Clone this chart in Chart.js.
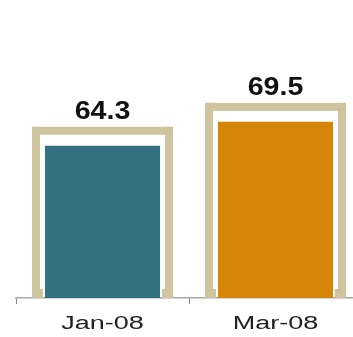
<!DOCTYPE html>
<html>
<head>
<meta charset="utf-8">
<script src="https://cdn.jsdelivr.net/npm/chart.js@4"></script>
<style>
  html, body { margin: 0; padding: 0; background: #fff; overflow: hidden; }
  #wrap { width: 353px; height: 337px; overflow: hidden; }
</style>
</head>
<body>
<div id="wrap"><canvas id="chart" width="380" height="337"></canvas></div>
<script>
const labels = ['Jan-08', 'Mar-08'];
const values = [64.3, 69.5];

const barColors = ['#347282', '#d58608'];
const frameColor = '#cec59e';
const axisColor = '#a8a8a8';

// beige "door frame" behind each bar, open at the bottom with small feet
const framePlugin = {
    id: 'frames',
    beforeDatasetsDraw(chart) {
        const ctx = chart.ctx;
        const bottom = chart.chartArea.bottom;
        const t = 8; // frame thickness
        chart.getDatasetMeta(0).data.forEach(bar => {
            const half = bar.width / 2;
            const left = bar.x - half - 13;
            const right = bar.x + half + 13;
            const top = bar.y - 19;
            ctx.save();
            ctx.fillStyle = frameColor;
            ctx.fillRect(left, top, right - left, t);
            ctx.fillRect(left, top, t, bottom - top);
            ctx.fillRect(right - t, top, t, bottom - top);
            // feet
            ctx.fillRect(left + t, bottom - 9, 3, 9);
            ctx.fillRect(right - t - 3, bottom - 9, 3, 9);
            ctx.restore();
        });
    }
};

// value labels above bars and the category labels, drawn a bit wide
const textPlugin = {
    id: 'texts',
    afterDatasetsDraw(chart) {
        const ctx = chart.ctx;
        const xScale = chart.scales.x;
        ctx.save();
        ctx.fillStyle = '#111';
        ctx.textAlign = 'center';
        ctx.textBaseline = 'alphabetic';
        ctx.font = 'bold 26px "Liberation Sans", Arial, sans-serif';
        chart.getDatasetMeta(0).data.forEach((bar, i) => {
            ctx.save();
            ctx.translate(bar.x, bar.y - 27);
            ctx.scale(1.1, 1);
            ctx.fillText(values[i].toFixed(1), 0, 0);
            ctx.restore();
        });

        ctx.fillStyle = '#222';
        ctx.font = '18px "Liberation Sans", Arial, sans-serif';
        ctx.textBaseline = 'middle';
        labels.forEach((lab, i) => {
            ctx.save();
            ctx.translate(xScale.getPixelForValue(i), 324);
            ctx.scale(1.5, 1);
            ctx.fillText(lab, 0, 0);
            ctx.restore();
        });
        ctx.restore();
    }
};

new Chart(document.getElementById('chart'), {
    type: 'bar',
    data: {
        labels: labels,
        datasets: [{
            data: values,
            backgroundColor: barColors,
            borderWidth: 0,
            categoryPercentage: 1,
            barPercentage: 0.665
        }]
    },
    options: {
        responsive: false,
        animation: false,
        devicePixelRatio: 1,
        layout: { padding: { left: 16, right: 18, top: 0, bottom: 33 } },
        plugins: {
            legend: { display: false },
            tooltip: { enabled: false }
        },
        scales: {
            x: {
                grid: {
                    offset: true,
                    drawOnChartArea: false,
                    drawTicks: true,
                    tickLength: 6,
                    color: '#888'
                },
                border: { display: true, color: axisColor, width: 1.5 },
                ticks: { display: false }
            },
            y: {
                display: false,
                min: 31.2,
                max: 96
            }
        }
    },
    plugins: [framePlugin, textPlugin]
});
</script>
</body>
</html>
